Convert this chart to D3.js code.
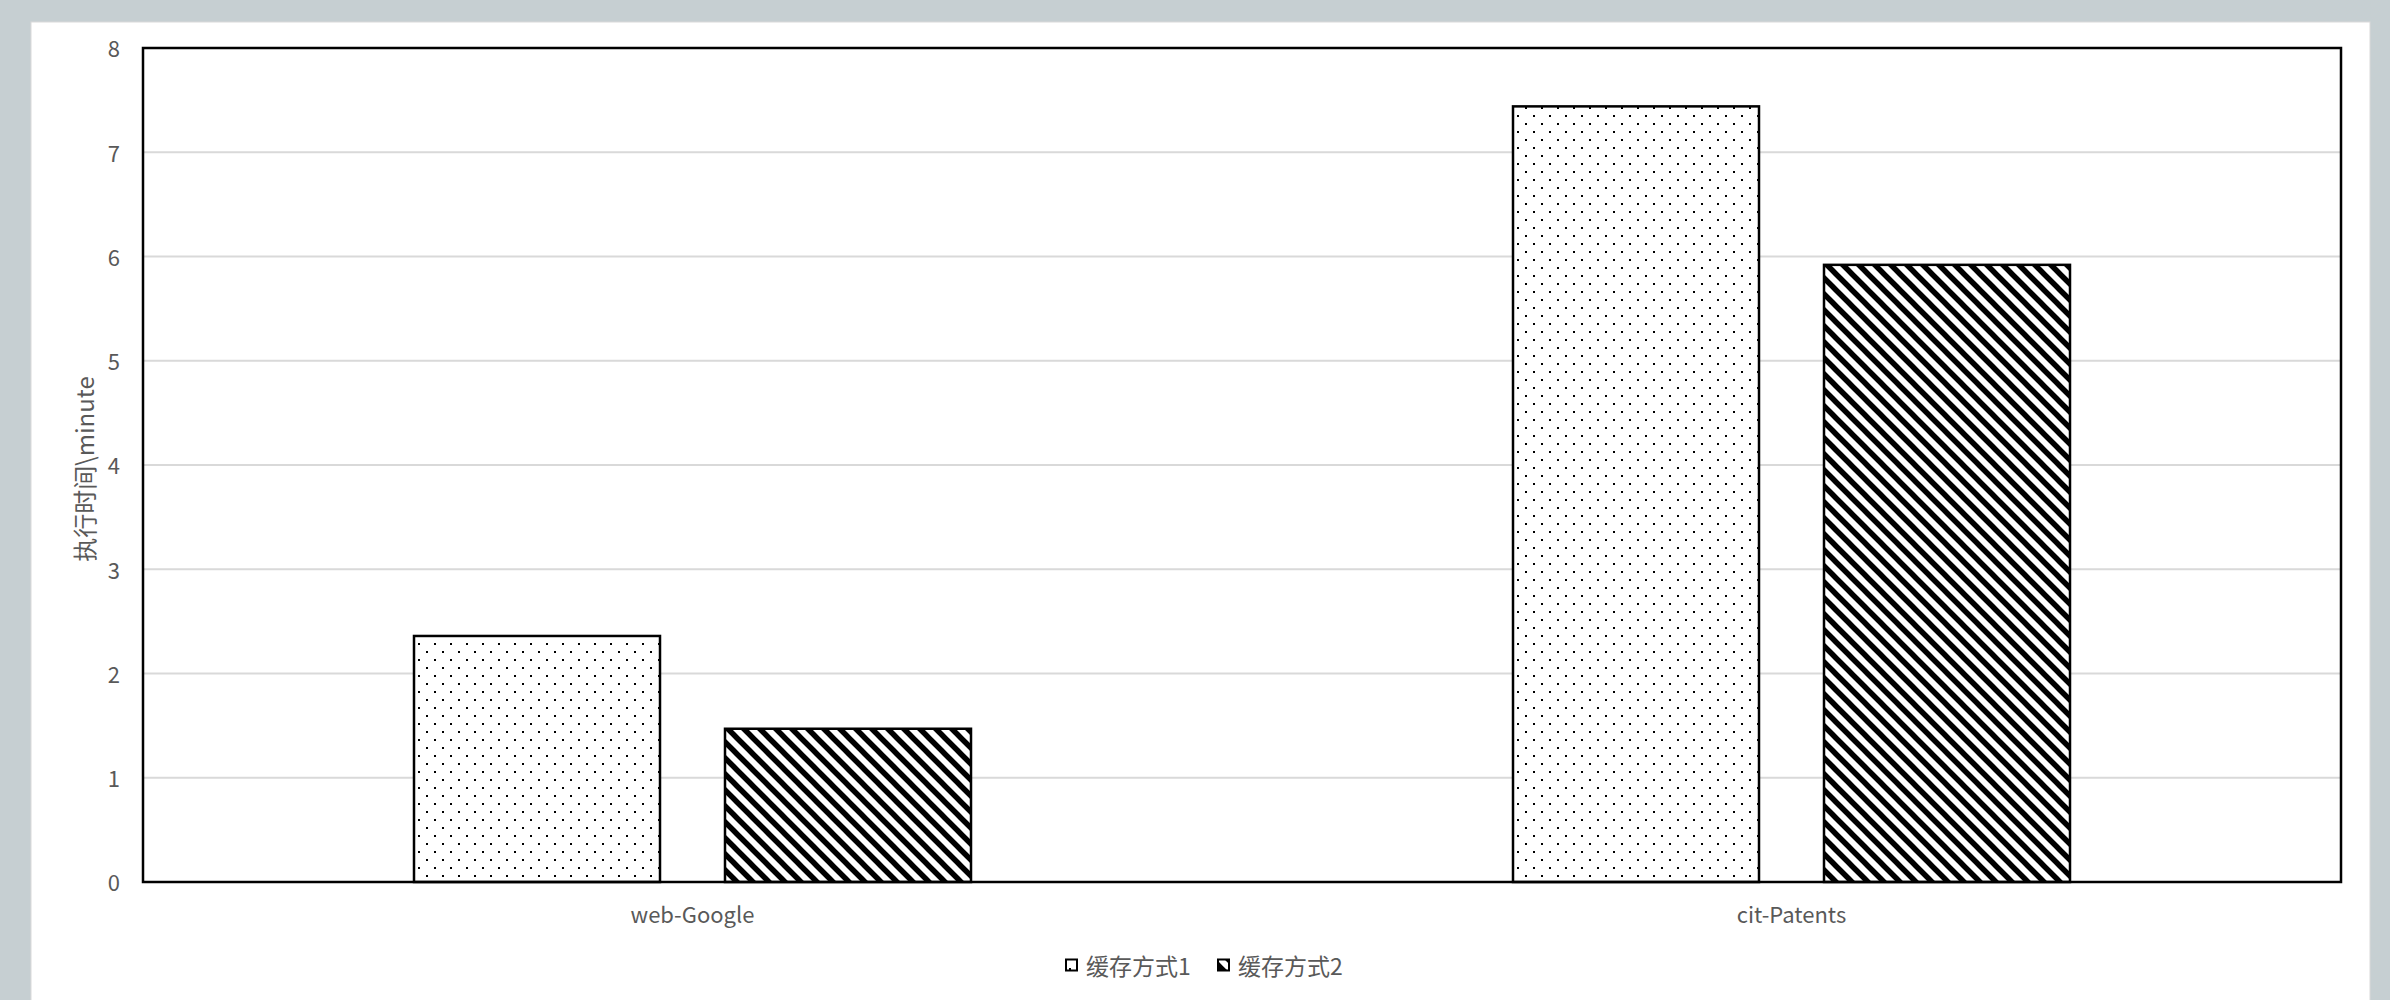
<!DOCTYPE html>
<html>
<head>
<meta charset="utf-8">
<script src="https://cdn.jsdelivr.net/npm/d3@7/dist/d3.min.js"></script>
<style>
  body { margin: 0; background: #c6cfd2; }
  svg { display: block; }
  text { font-family: "Noto Sans CJK SC", "Noto Sans", sans-serif; fill: #595959; }
</style>
</head>
<body>
<div id="chart"></div>
<script>
const categories = ["web-Google", "cit-Patents"];
const series = ["缓存方式1", "缓存方式2"];
const seriesValues = [
  [2.36, 7.44],  // 缓存方式1
  [1.47, 5.92]   // 缓存方式2
];
const yTicks = [0, 1, 2, 3, 4, 5, 6, 7, 8];
const yTitle = "执行时间\\minute";

const W = 2390, H = 1000;
const plot = {left: 143, right: 2341, top: 48, bottom: 882};

const svg = d3.select("#chart").append("svg")
  .attr("width", W)
  .attr("height", H);

// patterns
const defs = svg.append("defs");
const dots = defs.append("pattern")
  .attr("id", "pat0")
  .attr("patternUnits", "userSpaceOnUse")
  .attr("width", 16).attr("height", 16);
dots.append("rect").attr("width", 16).attr("height", 16).attr("fill", "#fff");
dots.append("rect").attr("x", 3).attr("y", 3).attr("width", 2).attr("height", 2).attr("fill", "#000");
dots.append("rect").attr("x", 11).attr("y", 11).attr("width", 2).attr("height", 2).attr("fill", "#000");

const hatch = defs.append("pattern")
  .attr("id", "pat1")
  .attr("patternUnits", "userSpaceOnUse")
  .attr("width", 16).attr("height", 16);
hatch.append("rect").attr("width", 16).attr("height", 16).attr("fill", "#fff");
hatch.append("path")
  .attr("d", "M-4,-4L20,20M-4,12L4,20M12,-4L20,4")
  .attr("stroke", "#000")
  .attr("stroke-width", 5.5);

// panel
svg.append("rect")
  .attr("x", 31).attr("y", 22)
  .attr("width", 2339).attr("height", 1000)
  .attr("fill", "#fff")
  .attr("stroke", "#d9d9d9")
  .attr("stroke-width", 1);

const x = d3.scaleBand()
  .domain(categories)
  .range([plot.left, plot.right]);

const xInner = d3.scaleBand()
  .domain(series)
  .range([271, x.bandwidth() - 271])
  .paddingInner(65 / 311);

const y = d3.scaleLinear()
  .domain([0, 8])
  .range([plot.bottom, plot.top]);

// gridlines
svg.append("g")
  .selectAll("line")
  .data(yTicks.filter(d => d > 0 && d < 8))
  .join("line")
  .attr("x1", plot.left).attr("x2", plot.right)
  .attr("y1", d => y(d)).attr("y2", d => y(d))
  .attr("stroke", "#d9d9d9")
  .attr("stroke-width", 2);

// y axis labels
const yAxis = svg.append("g")
  .attr("transform", "translate(" + plot.left + ",0)")
  .call(d3.axisLeft(y).tickValues(yTicks).tickSize(0).tickPadding(23));
yAxis.select(".domain").remove();
yAxis.selectAll("text")
  .attr("font-size", 22)
  .attr("dy", "0.4em")
  .attr("fill", "#595959")
  .style("font-family", "\"Noto Sans CJK SC\", sans-serif");

// x axis labels
const xAxis = svg.append("g")
  .attr("transform", "translate(0," + plot.bottom + ")")
  .call(d3.axisBottom(x).tickSize(0).tickPadding(25));
xAxis.select(".domain").remove();
xAxis.selectAll("text")
  .attr("font-size", 22)
  .attr("fill", "#595959")
  .style("font-family", "\"Noto Sans CJK SC\", sans-serif");

// bars
const groups = svg.append("g")
  .selectAll("g")
  .data(categories)
  .join("g")
  .attr("transform", d => "translate(" + x(d) + ",0)");

groups.selectAll("rect")
  .data((c, ci) => series.map((s, si) => ({s: s, si: si, v: seriesValues[si][ci]})))
  .join("rect")
  .attr("x", d => xInner(d.s))
  .attr("width", xInner.bandwidth())
  .attr("y", d => y(d.v))
  .attr("height", d => y(0) - y(d.v))
  .attr("fill", d => "url(#pat" + d.si + ")")
  .attr("stroke", "#000")
  .attr("stroke-width", 2.5);

// frame
svg.append("rect")
  .attr("x", plot.left).attr("y", plot.top)
  .attr("width", plot.right - plot.left)
  .attr("height", plot.bottom - plot.top)
  .attr("fill", "none")
  .attr("stroke", "#000")
  .attr("stroke-width", 2.5);

// y title
svg.append("text")
  .attr("transform", "translate(83," + ((plot.top + plot.bottom) / 2 + 4) + ") rotate(-90)")
  .attr("text-anchor", "middle")
  .attr("dominant-baseline", "central")
  .attr("font-size", 24)
  .text(yTitle);

// legend
const legend = svg.append("g")
  .attr("transform", "translate(1066,965)");
const itemX = [0, 152];
const item = legend.selectAll("g")
  .data(series)
  .join("g")
  .attr("transform", (d, i) => "translate(" + itemX[i] + ",0)");
item.append("rect")
  .attr("x", 0).attr("y", -5.5)
  .attr("width", 11).attr("height", 11)
  .attr("fill", (d, i) => "url(#pat" + i + ")")
  .attr("stroke", "#000")
  .attr("stroke-width", 2);
item.append("text")
  .attr("x", 20)
  .attr("dominant-baseline", "central")
  .attr("font-size", 23)
  .text(d => d);
</script>
</body>
</html>
